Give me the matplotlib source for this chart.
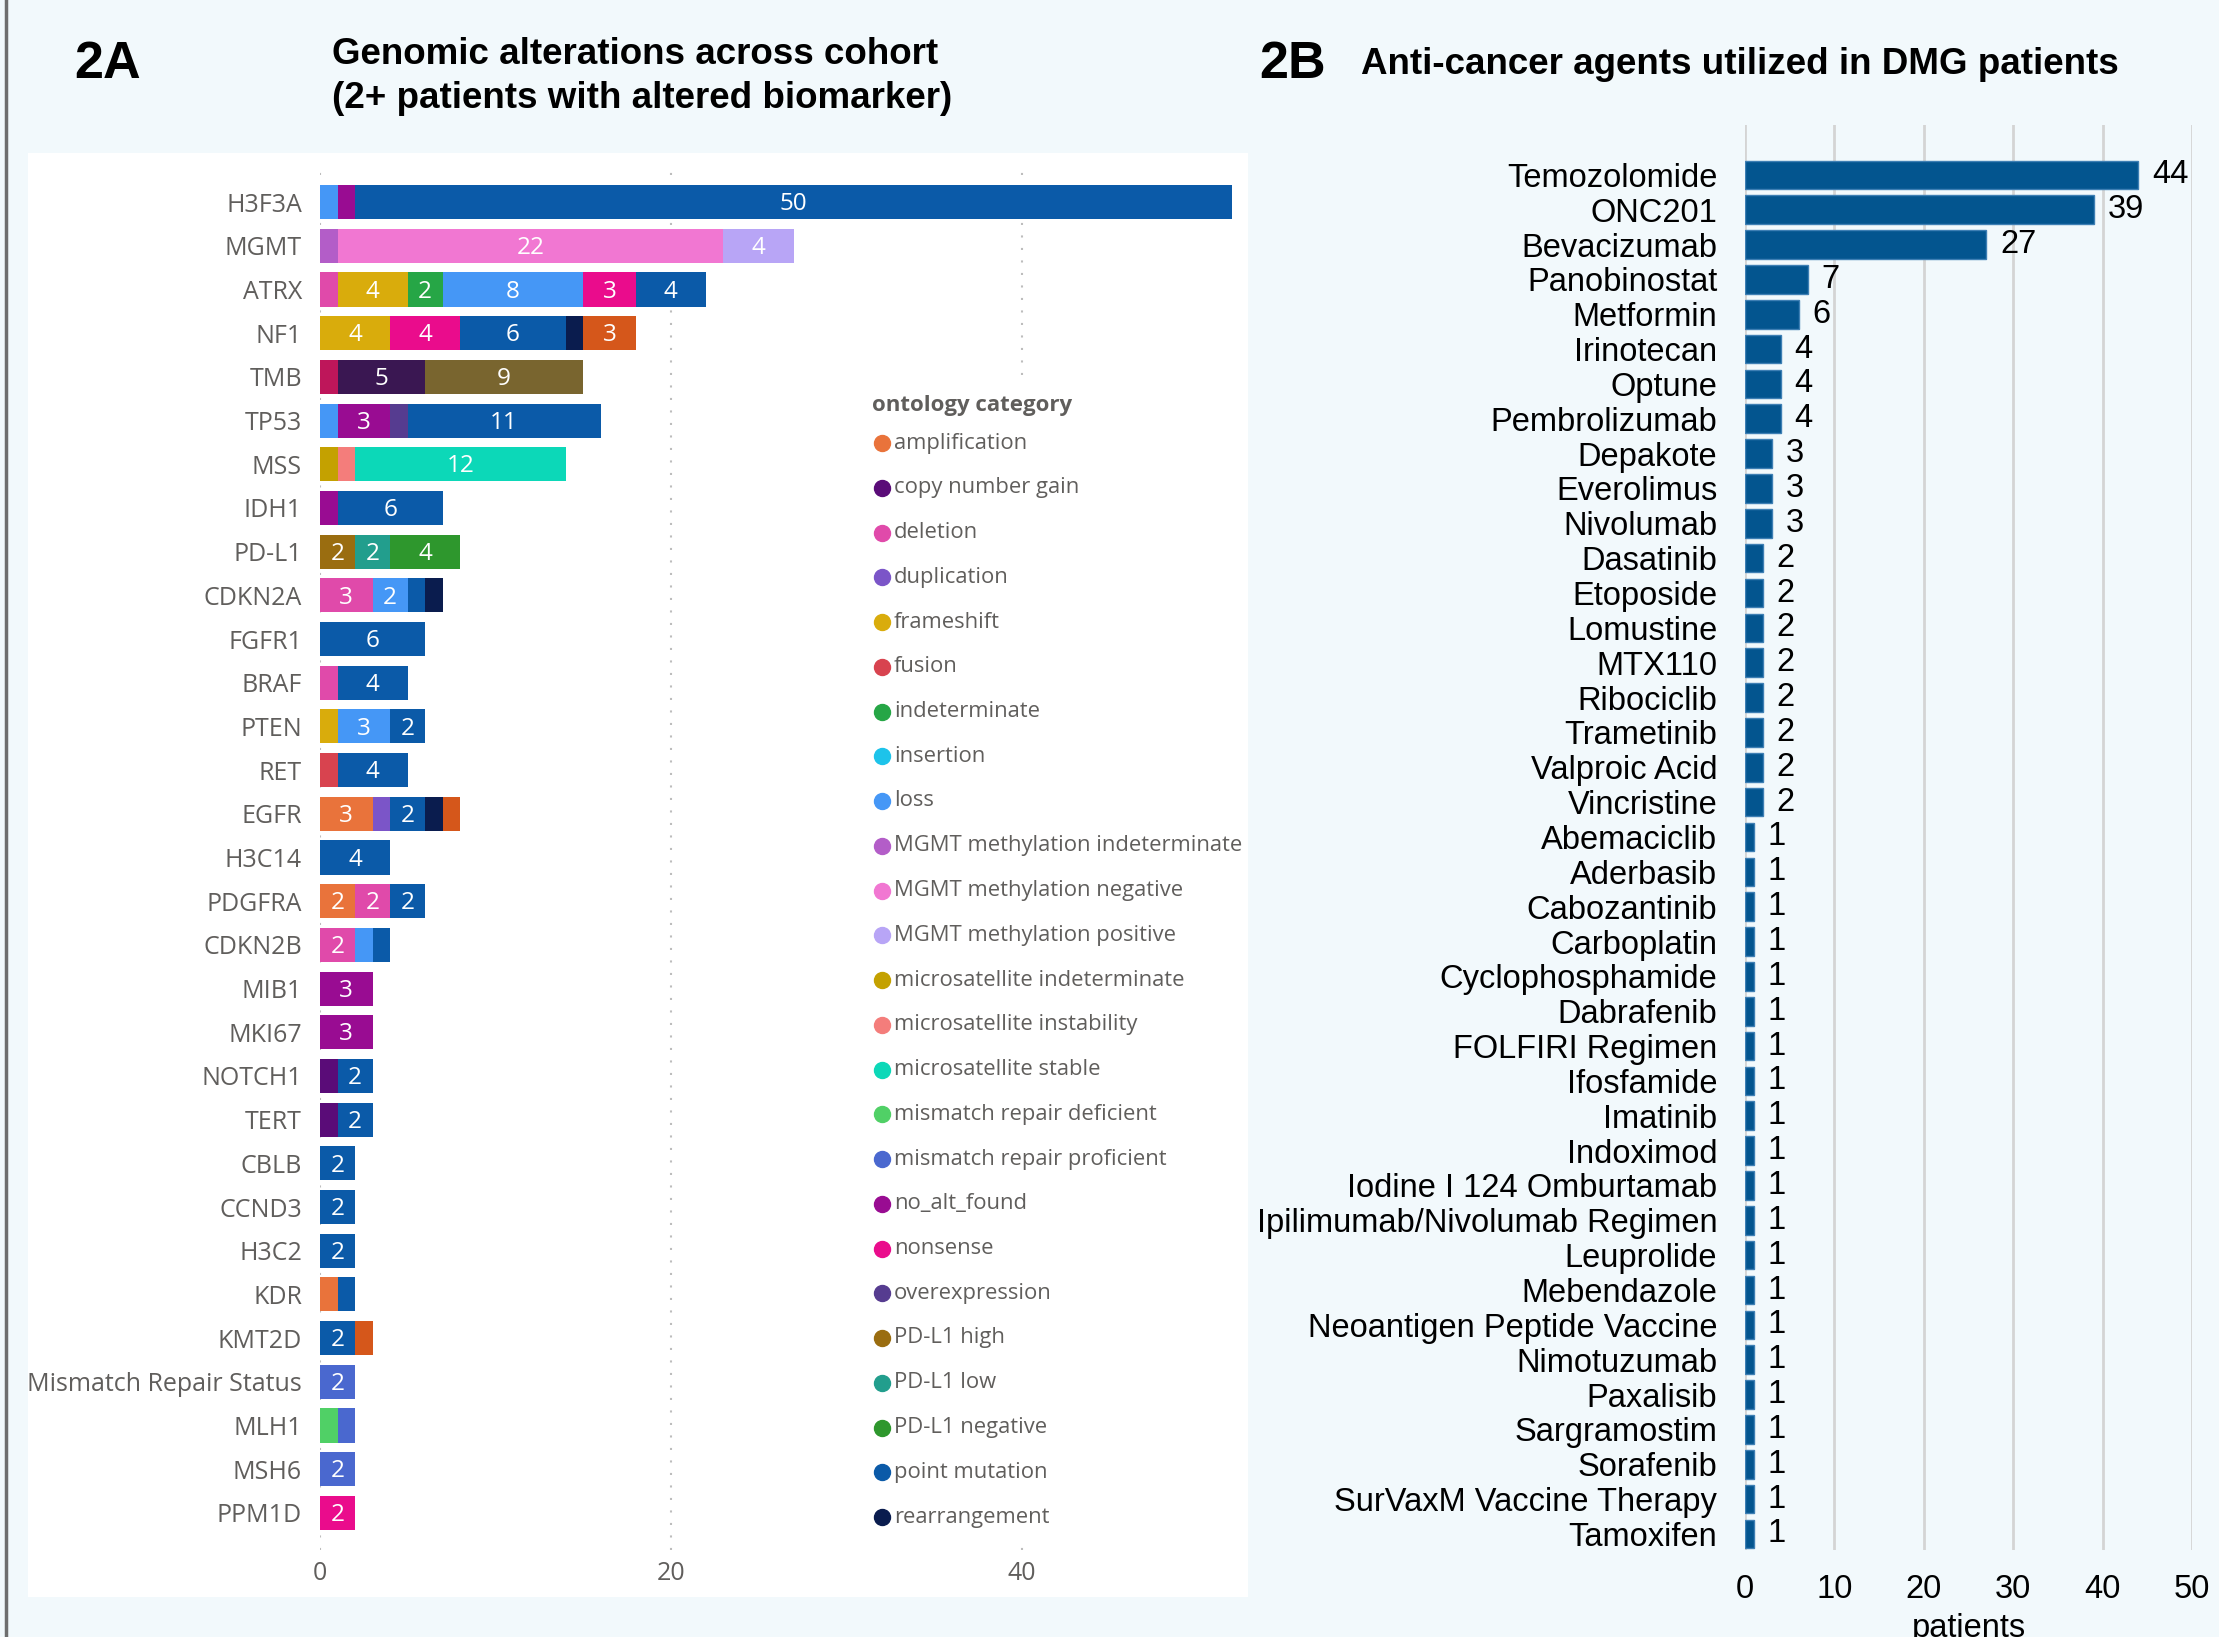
import matplotlib
matplotlib.use("Agg")
import matplotlib.pyplot as plt
from matplotlib.patches import Rectangle
from matplotlib.lines import Line2D

# ---- data: 2A genomic alterations ----
genes = ["H3F3A", "MGMT", "ATRX", "NF1", "TMB", "TP53", "MSS", "IDH1", "PD-L1",
         "CDKN2A", "FGFR1", "BRAF", "PTEN", "RET", "EGFR", "H3C14", "PDGFRA",
         "CDKN2B", "MIB1", "MKI67", "NOTCH1", "TERT", "CBLB", "CCND3", "H3C2",
         "KDR", "KMT2D", "Mismatch Repair Status", "MLH1", "MSH6", "PPM1D"]

seg_cats = [
    ["loss", "no_alt_found", "point mutation"],
    ["MGMT methylation indeterminate", "MGMT methylation negative", "MGMT methylation positive"],
    ["deletion", "frameshift", "indeterminate", "loss", "nonsense", "point mutation"],
    ["frameshift", "nonsense", "point mutation", "rearrangement", "splice site"],
    ["TMB high", "TMB intermediate", "TMB low"],
    ["loss", "no_alt_found", "overexpression", "point mutation"],
    ["microsatellite indeterminate", "microsatellite instability", "microsatellite stable"],
    ["no_alt_found", "point mutation"],
    ["PD-L1 high", "PD-L1 low", "PD-L1 negative"],
    ["deletion", "loss", "point mutation", "rearrangement"],
    ["point mutation"],
    ["deletion", "point mutation"],
    ["frameshift", "loss", "point mutation"],
    ["fusion", "point mutation"],
    ["amplification", "duplication", "point mutation", "rearrangement", "splice site"],
    ["point mutation"],
    ["amplification", "deletion", "point mutation"],
    ["deletion", "loss", "point mutation"],
    ["no_alt_found"],
    ["no_alt_found"],
    ["copy number gain", "point mutation"],
    ["copy number gain", "point mutation"],
    ["point mutation"],
    ["point mutation"],
    ["point mutation"],
    ["amplification", "point mutation"],
    ["point mutation", "splice site"],
    ["mismatch repair proficient"],
    ["mismatch repair deficient", "mismatch repair proficient"],
    ["mismatch repair proficient"],
    ["nonsense"],
]
seg_vals = [
    [1, 1, 50], [1, 22, 4], [1, 4, 2, 8, 3, 4], [4, 4, 6, 1, 3], [1, 5, 9],
    [1, 3, 1, 11], [1, 1, 12], [1, 6], [2, 2, 4], [3, 2, 1, 1], [6], [1, 4],
    [1, 3, 2], [1, 4], [3, 1, 2, 1, 1], [4], [2, 2, 2], [2, 1, 1], [3], [3],
    [1, 2], [1, 2], [2], [2], [2], [1, 1], [2, 1], [2], [1, 1], [2], [2],
]

legend_cats = ["amplification", "copy number gain", "deletion", "duplication",
               "frameshift", "fusion", "indeterminate", "insertion", "loss",
               "MGMT methylation indeterminate", "MGMT methylation negative",
               "MGMT methylation positive", "microsatellite indeterminate",
               "microsatellite instability", "microsatellite stable",
               "mismatch repair deficient", "mismatch repair proficient",
               "no_alt_found", "nonsense", "overexpression", "PD-L1 high",
               "PD-L1 low", "PD-L1 negative", "point mutation", "rearrangement"]

cat_colors = {
    "amplification": "#E9733B", "copy number gain": "#5A0C78", "deletion": "#E04AAA",
    "duplication": "#7B55C8", "frameshift": "#D9AC0C", "fusion": "#D8434F",
    "indeterminate": "#26A646", "insertion": "#1DC3EA", "loss": "#4597F6",
    "MGMT methylation indeterminate": "#B35DC8", "MGMT methylation negative": "#F177D2",
    "MGMT methylation positive": "#B8A5F6", "microsatellite indeterminate": "#C4A100",
    "microsatellite instability": "#F47D7B", "microsatellite stable": "#0CD8B8",
    "mismatch repair deficient": "#50D066", "mismatch repair proficient": "#4A68CF",
    "no_alt_found": "#990C92", "nonsense": "#EA0C8C", "overexpression": "#563C90",
    "PD-L1 high": "#9A6D10", "PD-L1 low": "#229E8D", "PD-L1 negative": "#2E972D",
    "point mutation": "#0B5AA8", "rearrangement": "#0A1C4E", "splice site": "#D5571B",
    "TMB high": "#BE165A", "TMB intermediate": "#3A1752", "TMB low": "#79652F",
}

# ---- data: 2B anti-cancer agents ----
agents = ["Temozolomide", "ONC201", "Bevacizumab", "Panobinostat", "Metformin",
          "Irinotecan", "Optune", "Pembrolizumab", "Depakote", "Everolimus",
          "Nivolumab", "Dasatinib", "Etoposide", "Lomustine", "MTX110",
          "Ribociclib", "Trametinib", "Valproic Acid", "Vincristine",
          "Abemaciclib", "Aderbasib", "Cabozantinib", "Carboplatin",
          "Cyclophosphamide", "Dabrafenib", "FOLFIRI Regimen", "Ifosfamide",
          "Imatinib", "Indoximod", "Iodine I 124 Omburtamab",
          "Ipilimumab/Nivolumab Regimen", "Leuprolide", "Mebendazole",
          "Neoantigen Peptide Vaccine", "Nimotuzumab", "Paxalisib",
          "Sargramostim", "Sorafenib", "SurVaxM Vaccine Therapy", "Tamoxifen"]
patients = [44, 39, 27, 7, 6, 4, 4, 4, 3, 3, 3, 2, 2, 2, 2, 2, 2, 2, 2,
            1, 1, 1, 1, 1, 1, 1, 1, 1, 1, 1, 1, 1, 1, 1, 1, 1, 1, 1, 1, 1]

W, H = 2219, 1637
PBI = "Open Sans"
ARIAL = "Liberation Sans"
GRAY = "#605E5C"


def box(x0, y0, x1, y1):
    return [x0 / W, 1 - y1 / H, (x1 - x0) / W, (y1 - y0) / H]


fig = plt.figure(figsize=(W / 100, H / 100), dpi=100)
fig.patch.set_facecolor("#F2F9FC")
fig.add_artist(Rectangle((28 / W, 1 - 1597 / H), 1220 / W, 1444 / H,
                         transform=fig.transFigure, facecolor="white",
                         edgecolor="none", zorder=0))
fig.add_artist(Line2D([6 / W, 6 / W], [0, 1], color="#6E6E6E", lw=2.5))

# ---- 2A stacked bars ----
ax1 = fig.add_axes(box(320, 165, 1232, 1550))
ax1.set_facecolor("none")
for i, (cats, vals) in enumerate(zip(seg_cats, seg_vals)):
    left = 0
    for c, v in zip(cats, vals):
        ax1.barh(i, v, left=left, height=0.78, color=cat_colors[c], lw=0, zorder=3)
        if v >= 2:
            ax1.text(left + v / 2, i + 0.05, str(v), ha="center", va="center",
                     color="white", fontsize=17.5, family=PBI, zorder=4)
        left += v
ax1.set_yticks(range(len(genes)))
ax1.set_yticklabels(genes, fontsize=18, family=PBI, color=GRAY)
ax1.set_ylim(30.85, -0.85)
ax1.set_xlim(0, 52)
ax1.set_xticks([0, 20, 40])
ax1.set_xticklabels(["0", "20", "40"], fontsize=18, family=PBI, color=GRAY)
ax1.tick_params(axis="y", length=0, pad=13)
ax1.tick_params(axis="x", length=0, pad=8)
ax1.xaxis.grid(True, linestyle=(0, (1, 5)), color="#BDBDBD", lw=1.5, zorder=0)
for s in ax1.spines.values():
    s.set_visible(False)

# legend panel
lax = fig.add_axes(box(866, 385, 1245, 1540))
lax.set_facecolor("white")
lax.set_xlim(866, 1245)
lax.set_ylim(1540, 385)
lax.set_xticks([])
lax.set_yticks([])
for s in lax.spines.values():
    s.set_visible(False)
lax.text(872, 406, "ontology category", fontsize=16, weight="bold", family=PBI,
         color=GRAY, va="center")
for k, c in enumerate(legend_cats):
    y = 443 + k * 44.75
    lax.plot(882, y, "o", ms=11.5, color=cat_colors[c], clip_on=False)
    lax.text(894, y, c, fontsize=15.8, family=PBI, color=GRAY, va="center")

# ---- 2B agents ----
ax2 = fig.add_axes(box(1745, 125, 2192, 1550))
ax2.set_facecolor("none")
ypos = range(len(agents))
ax2.barh(ypos, patients, height=0.82, color="#03558F", edgecolor="#3E7FB4",
         lw=1, zorder=3)
for i, v in enumerate(patients):
    ax2.annotate(str(v), (v, i), xytext=(10, 0), textcoords="offset points",
                 va="center", ha="left", fontsize=23.5, family=ARIAL, color="black")
ax2.set_yticks(list(ypos))
ax2.set_yticklabels(agents, fontsize=23.5, family=ARIAL, color="black")
ax2.set_ylim(39.46, -1.43)
ax2.set_xlim(0, 50)
ax2.set_xticks([0, 10, 20, 30, 40, 50])
ax2.set_xticklabels(["0", "10", "20", "30", "40", "50"], fontsize=23.5, family=ARIAL)
ax2.tick_params(axis="y", length=0, pad=20)
ax2.tick_params(axis="x", length=0, pad=17)
ax2.xaxis.grid(True, color="#D4D4D4", lw=2, zorder=0)
ax2.set_xlabel("patients", fontsize=23.5, family=ARIAL, labelpad=6)
for s in ax2.spines.values():
    s.set_visible(False)

# ---- titles ----
fig.text(74 / W, 1 - 64 / H, "2A", fontsize=37.5, weight="bold", family=ARIAL, va="center")
fig.text(332 / W, 1 - 54 / H, "Genomic alterations across cohort", fontsize=26.5,
         weight="bold", family=ARIAL, va="center")
fig.text(332 / W, 1 - 99 / H, "(2+ patients with altered biomarker)", fontsize=26.5,
         weight="bold", family=ARIAL, va="center")
fig.text(1259 / W, 1 - 64 / H, "2B", fontsize=37.5, weight="bold", family=ARIAL, va="center")
fig.text(1361 / W, 1 - 64 / H, "Anti-cancer agents utilized in DMG patients",
         fontsize=26.5, weight="bold", family=ARIAL, va="center")

fig.savefig("out.png", dpi=100, facecolor=fig.get_facecolor())
